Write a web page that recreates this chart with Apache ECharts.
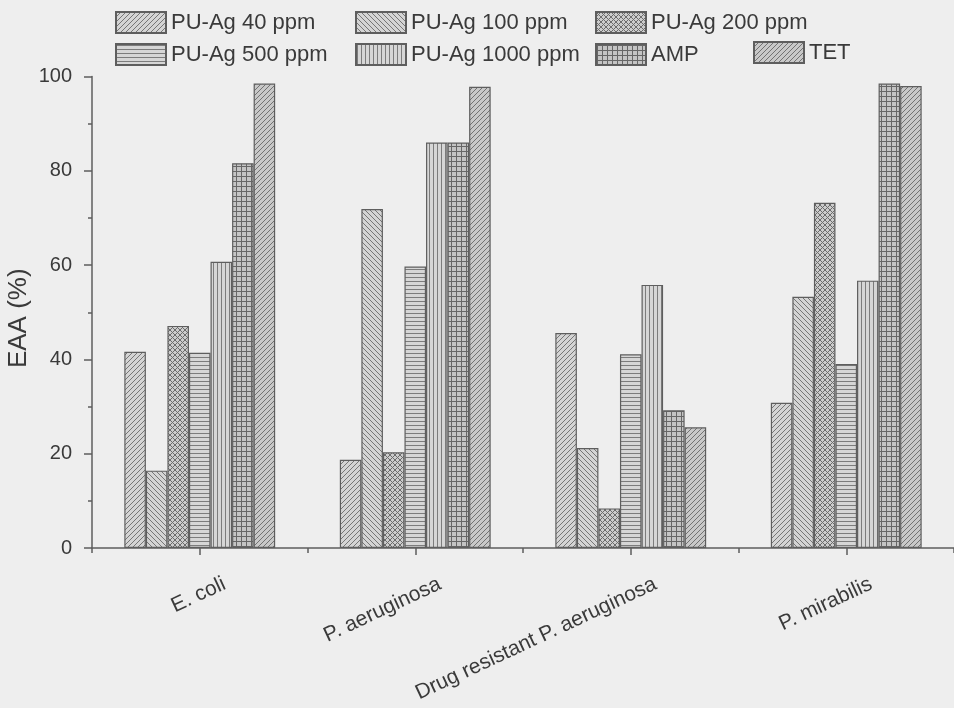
<!DOCTYPE html>
<html>
<head>
<meta charset="utf-8">
<script src="https://cdn.jsdelivr.net/npm/echarts@6/dist/echarts.min.js"></script>
<style>
html,body{margin:0;padding:0;background:#eeeeee;}
#chart{width:954px;height:708px;}
</style>
</head>
<body>
<div id="chart"></div>
<script>
const categories = ['E. coli', 'P. aeruginosa', 'Drug resistant P. aeruginosa', 'P. mirabilis'];
const seriesNames = ['PU-Ag 40 ppm', 'PU-Ag 100 ppm', 'PU-Ag 200 ppm', 'PU-Ag 500 ppm', 'PU-Ag 1000 ppm', 'AMP', 'TET'];
const ppm40 = [41.6, 18.7, 45.6, 30.8];
const ppm100 = [16.4, 71.9, 21.2, 53.3];
const ppm200 = [47.1, 20.3, 8.4, 73.2];
const ppm500 = [41.4, 59.7, 41.1, 39.0];
const ppm1000 = [60.7, 86.0, 55.8, 56.7];
const amp = [81.6, 86.0, 29.2, 98.5];
const tet = [98.5, 97.8, 25.6, 98.0];
const yTicks = [0, 20, 40, 60, 80, 100];

function makePattern(kind) {
  const c = document.createElement('canvas');
  const s = (kind === 'cross' || kind === 'grid') ? 5 : (kind === 'h' || kind === 'v') ? 4 : 5;
  c.width = s; c.height = s;
  const g = c.getContext('2d');
  let bg = '#d4d4d4', fg = '#767676';
  if (kind === 'grid') { bg = '#c4c4c4'; fg = '#666666'; }
  if (kind === 'tet') { bg = '#c8c8c8'; fg = '#727272'; }
  if (kind === 'cross') { bg = '#cccccc'; fg = '#6c6c6c'; }
  if (kind === 'h' || kind === 'v') { bg = '#d6d6d6'; fg = '#7c7c7c'; }
  g.fillStyle = bg; g.fillRect(0, 0, s, s);
  g.strokeStyle = fg; g.lineWidth = 1;
  g.beginPath();
  if (kind === 'fwd' || kind === 'tet') {
    g.moveTo(-1, s + 1); g.lineTo(s + 1, -1);
    g.moveTo(-1, 1); g.lineTo(1, -1);
    g.moveTo(s - 1, s + 1); g.lineTo(s + 1, s - 1);
  } else if (kind === 'back') {
    g.moveTo(-1, -1); g.lineTo(s + 1, s + 1);
    g.moveTo(s - 1, -1); g.lineTo(s + 1, 1);
    g.moveTo(-1, s - 1); g.lineTo(1, s + 1);
  } else if (kind === 'cross') {
    g.moveTo(-1, s + 1); g.lineTo(s + 1, -1);
    g.moveTo(-1, -1); g.lineTo(s + 1, s + 1);
  } else if (kind === 'h') {
    g.moveTo(0, 1.5); g.lineTo(s, 1.5);
  } else if (kind === 'v') {
    g.moveTo(1.5, 0); g.lineTo(1.5, s);
  } else if (kind === 'grid') {
    g.moveTo(0, 1.5); g.lineTo(s, 1.5);
    g.moveTo(1.5, 0); g.lineTo(1.5, s);
  }
  g.stroke();
  return { image: c, repeat: 'repeat' };
}

const patterns = [makePattern('fwd'), makePattern('back'), makePattern('cross'), makePattern('h'), makePattern('v'), makePattern('grid'), makePattern('tet')];
const allData = [ppm40, ppm100, ppm200, ppm500, ppm1000, amp, tet];

const font = 'Liberation Sans, Arial, Helvetica, sans-serif';
const textColor = '#3a3a3a';
const axisColor = '#5e5e5e';

const chart = echarts.init(document.getElementById('chart'), null, { renderer: 'canvas' });

const series = seriesNames.map((name, i) => ({
  name: name,
  type: 'bar',
  xAxisIndex: 0,
  yAxisIndex: 0,
  data: allData[i],
  barGap: '0%',
  barCategoryGap: '30%',
  itemStyle: { color: patterns[i], borderColor: '#5e5e5e', borderWidth: 1.2 },
  emphasis: { disabled: true }
}));

function legendCol(names, left, top) {
  return {
    data: names,
    orient: 'vertical',
    left: left,
    top: top,
    itemWidth: 50,
    itemHeight: 21,
    itemGap: 9,
    icon: 'rect',
    padding: 0,
    selectedMode: false,
    textStyle: { fontFamily: font, fontSize: 22, color: textColor }
  };
}

const option = {
  backgroundColor: '#eeeeee',
  animation: false,
  legend: [
    legendCol(['PU-Ag 40 ppm', 'PU-Ag 500 ppm'], 115, 11),
    legendCol(['PU-Ag 100 ppm', 'PU-Ag 1000 ppm'], 355, 11),
    legendCol(['PU-Ag 200 ppm', 'AMP'], 595, 11),
    legendCol(['TET'], 753, 41)
  ],
  grid: { left: 92, right: 0, top: 76.5, bottom: 160, containLabel: false, outerBoundsMode: 'none' },
  xAxis: [
    {
      type: 'category',
      data: categories,
      boundaryGap: true,
      axisLine: { show: true, onZero: false, lineStyle: { color: axisColor, width: 1.5 } },
      axisTick: { show: true, alignWithLabel: true, inside: false, length: 7, lineStyle: { color: axisColor, width: 1.5 } },
      axisLabel: {
        interval: 0,
        rotate: 25,
        align: 'right',
        verticalAlign: 'top',
        margin: -18,
        padding: [48, 0, 0, 0],
        fontFamily: font,
        fontSize: 21,
        color: textColor
      },
      splitLine: { show: false }
    },
    {
      type: 'category',
      data: categories,
      boundaryGap: true,
      position: 'bottom',
      axisLine: { show: false, onZero: false },
      axisTick: { show: true, alignWithLabel: false, length: 5, lineStyle: { color: axisColor, width: 1.5 } },
      axisLabel: { show: false },
      splitLine: { show: false }
    }
  ],
  yAxis: {
    type: 'value',
    min: yTicks[0],
    max: yTicks[yTicks.length - 1],
    interval: 20,
    name: 'EAA (%)',
    nameLocation: 'middle',
    nameGap: 60,
    nameMoveOverlap: false,
    nameRotate: 90,
    nameTextStyle: { fontFamily: font, fontSize: 26, color: textColor, padding: [0, 12, 0, 0] },
    axisLine: { show: true, lineStyle: { color: axisColor, width: 1.5 } },
    axisTick: { show: true, inside: false, length: 8, lineStyle: { color: axisColor, width: 1.5 } },
    minorTick: { show: true, splitNumber: 2, length: 4, lineStyle: { color: axisColor, width: 1.5 } },
    axisLabel: { margin: 20, fontFamily: font, fontSize: 20, color: textColor },
    splitLine: { show: false }
  },
  series: series
};

chart.setOption(option);
</script>
</body>
</html>
